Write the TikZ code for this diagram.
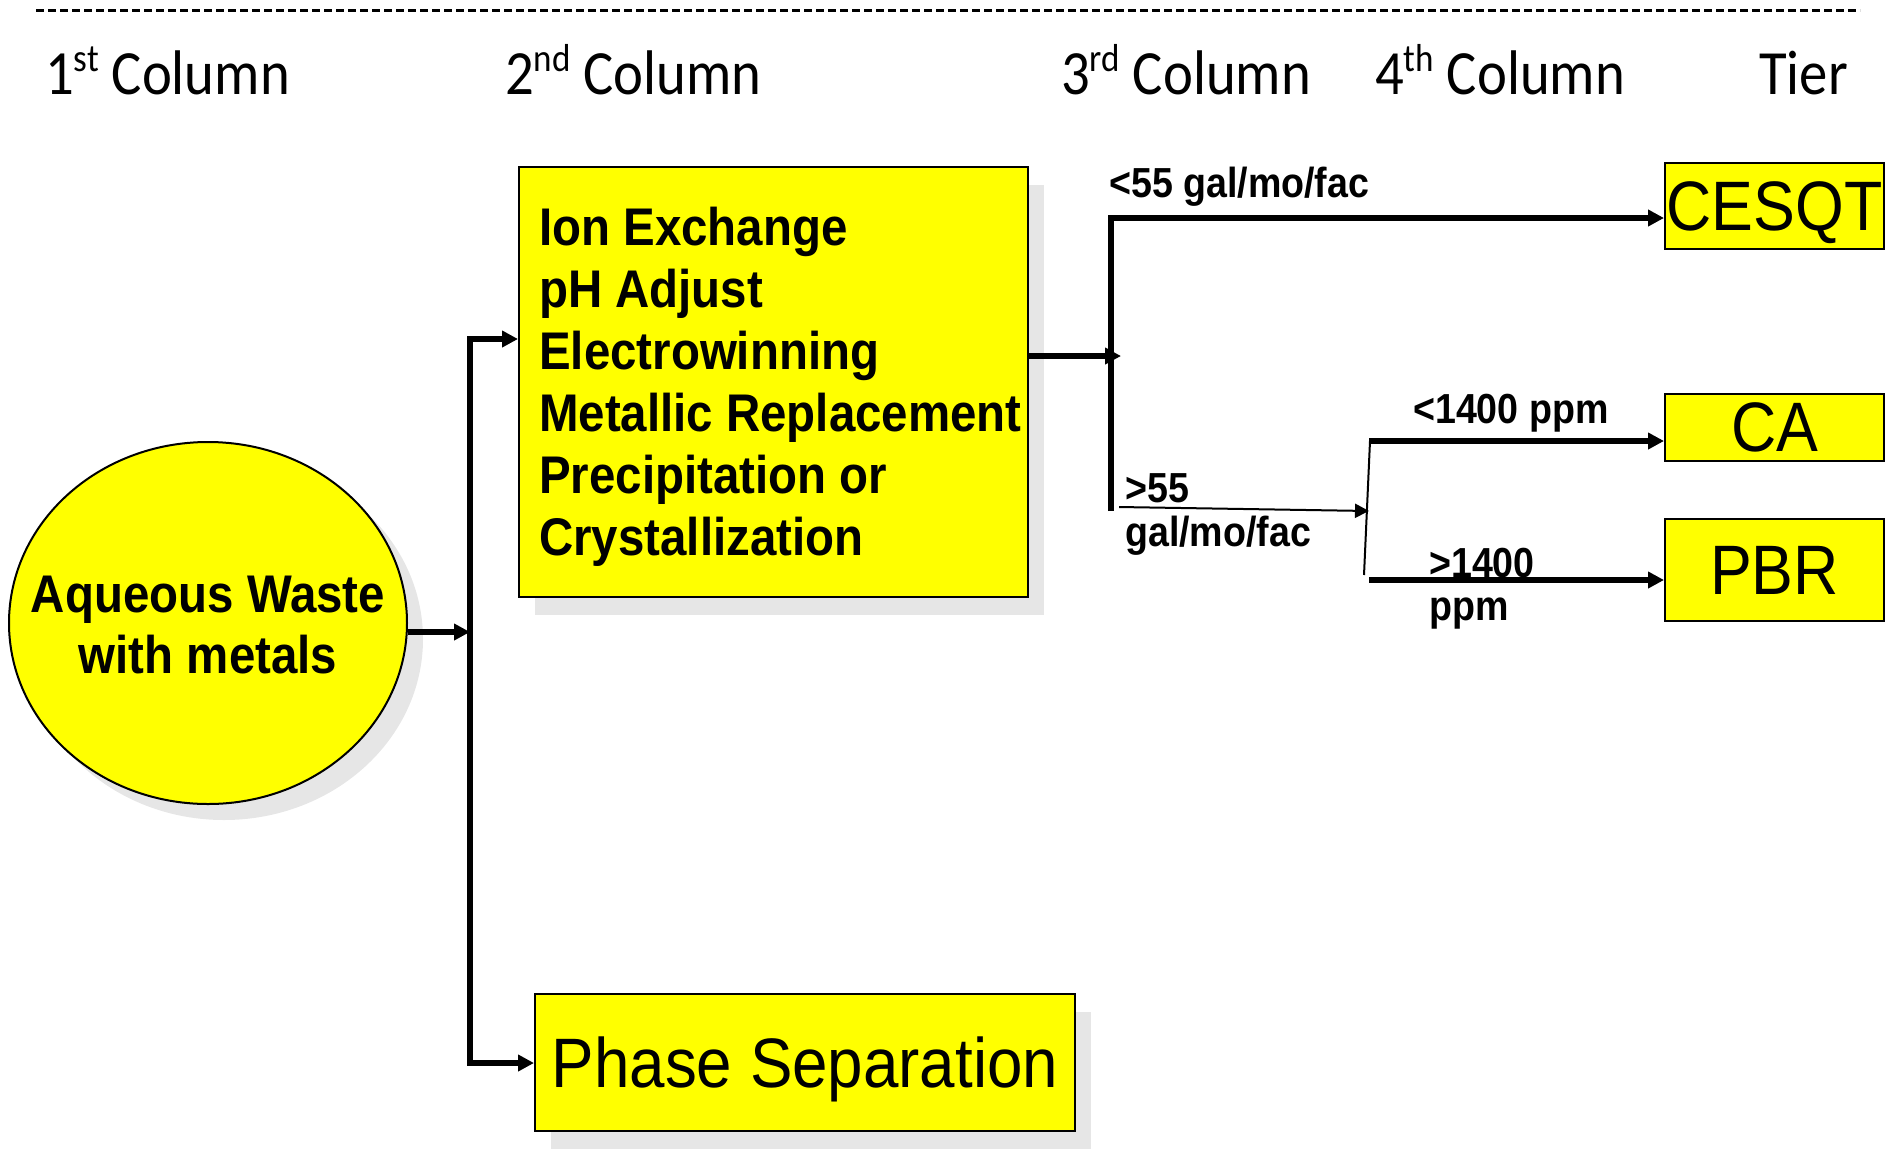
\documentclass[tikz,border=0pt]{standalone}
\usepackage{graphicx}
\usepackage{fontspec}
\setmainfont{Liberation Sans}
\newfontfamily\hdrfont{Carlito}
\usetikzlibrary{arrows.meta,shapes.geometric,shadows}
\definecolor{ybox}{RGB}{255,255,0}
\definecolor{shade}{RGB}{230,230,230}
\newcommand{\sqz}[1]{\scalebox{0.895}[1]{#1}}
\newcommand{\sqzh}[1]{\scalebox{0.9}[1]{#1}}
\newcommand{\sqzw}[1]{\scalebox{0.91}[1]{#1}}
\newcommand{\hsup}[1]{\raisebox{0.36em}{\fontsize{39}{40}\selectfont #1}}
\begin{document}
\begin{tikzpicture}[x=1pt,y=-1pt,
  hdr/.style={font=\hdrfont\fontsize{63}{70}\selectfont, anchor=base west, inner sep=0pt},
  btxt/.style={font=\bfseries\fontsize{53}{62}\selectfont, inner sep=0pt},
  lbl/.style={font=\bfseries\fontsize{42}{46}\selectfont, anchor=base west, inner sep=0pt},
  ybx/.style={draw=black, line width=2pt, fill=ybox, rectangle, inner sep=0pt,
     drop shadow={shadow xshift=16pt, shadow yshift=-18pt, fill=shade, opacity=1}},
  tierbx/.style={draw=black, line width=2pt, fill=ybox, rectangle, inner sep=0pt},
  ycirc/.style={draw=black, line width=2pt, fill=ybox, ellipse, inner sep=0pt,
     drop shadow={shadow xshift=16pt, shadow yshift=-16pt, fill=shade, opacity=1}},
  big/.style={font=\fontsize{70}{80}\selectfont, text depth=0pt},
  arr/.style={line width=5.5pt, line join=miter, -{Triangle[length=16pt,width=16pt]}},
  tarr/.style={line width=2pt, -{Triangle[length=14pt,width=14pt]}},
]
\useasboundingbox (0,0) rectangle (1894,1149);

% top dashed rule
\coordinate (dl) at (36,10);
\coordinate (dr) at (1860,10);
\draw[line width=3pt, dash pattern=on 8pt off 4pt] (dl) -- (dr);

% headers
\node[hdr] (h1) at (45,94) {\sqzh{1\hsup{st} Column}};
\node[hdr] (h2) at (505,94) {\sqzh{2\hsup{nd} Column}};
\node[hdr] (h3) at (1061,94) {\sqzh{3\hsup{rd} Column}};
\node[hdr] (h4) at (1375,94) {\sqzh{4\hsup{th} Column}};
\node[hdr] (h5) at (1759,94) {\sqzh{Tier}};

% source ellipse
\node[ycirc, minimum width=398pt, minimum height=362pt] (circ) at (208,623) {};
\node[btxt, anchor=base] (ct1) at (208,612) {\sqz{Aqueous Waste}};
\node[btxt, anchor=base] (ct2) at (208,673) {\sqz{with metals}};

% treatment box
\node[ybx, minimum width=509pt, minimum height=430pt] (box1) at (773.5,382) {};
\foreach \t [count=\i] in {Ion Exchange, pH Adjust, Electrowinning, Metallic Replacement, Precipitation or, Crystallization}
  \node[btxt, anchor=base west] (bl\i) at (539,{245+62*(\i-1)}) {\sqz{\t}};

% phase separation box
\node[ybx, big, minimum width=540pt, minimum height=137pt] (box2) at (805,1062.5) {\sqzw{Phase Separation}};

% tier boxes
\node[tierbx, big, minimum width=219pt, minimum height=86pt] (cesqt) at (1774.5,206) {\sqz{CESQT}};
\node[tierbx, big, minimum width=219pt, minimum height=67pt] (ca) at (1774.5,427.5) {\sqz{CA}};
\node[tierbx, big, minimum width=219pt, minimum height=102pt] (pbr) at (1774.5,570) {\sqz{PBR}};

% trunk from source
\coordinate (j1) at (470,632);
\coordinate (ttop) at (470,339);
\coordinate (tbot) at (470,1063);
\draw[arr] (circ.east |- j1) -- (j1);
\draw[arr, {Triangle[length=16pt,width=16pt]}-{Triangle[length=16pt,width=16pt]}]
  (box1.west |- ttop) -- (ttop) -- (tbot) -- (box2.west |- tbot);

% from treatment box to volume split
\coordinate (j2) at (1121,356);
\coordinate (v2t) at (1111,218);
\coordinate (v2b) at (1111,511);
\draw[arr] (box1.east |- j2) -- (j2);
\draw[arr] (v2b) -- (v2t) -- (cesqt.west |- v2t);

% lower branch
\coordinate (t1) at (1119,507);
\coordinate (t2) at (1369,511);
\draw[tarr] (t1) -- (t2);
\coordinate (s1) at (1370,441);
\coordinate (s2) at (1364,575);
\draw[line width=2pt] (s1) -- (s2);
\coordinate (c1) at (1369,441);
\coordinate (p1) at (1369,580);
\draw[arr] (c1) -- (ca.west |- c1);
\draw[arr] (p1) -- (pbr.west |- p1);

% labels
\node[lbl] (l1) at (1109,197) {\sqz{<55 gal/mo/fac}};
\node[lbl] (l2) at (1125,502) {\sqz{>55}};
\node[lbl] (l3) at (1125,546) {\sqz{gal/mo/fac}};
\node[lbl] (l4) at (1413,423) {\sqz{<1400 ppm}};
\node[lbl] (l5) at (1429,577) {\sqz{>1400}};
\node[lbl] (l6) at (1429,620) {\sqz{ppm}};
\end{tikzpicture}
\end{document}
